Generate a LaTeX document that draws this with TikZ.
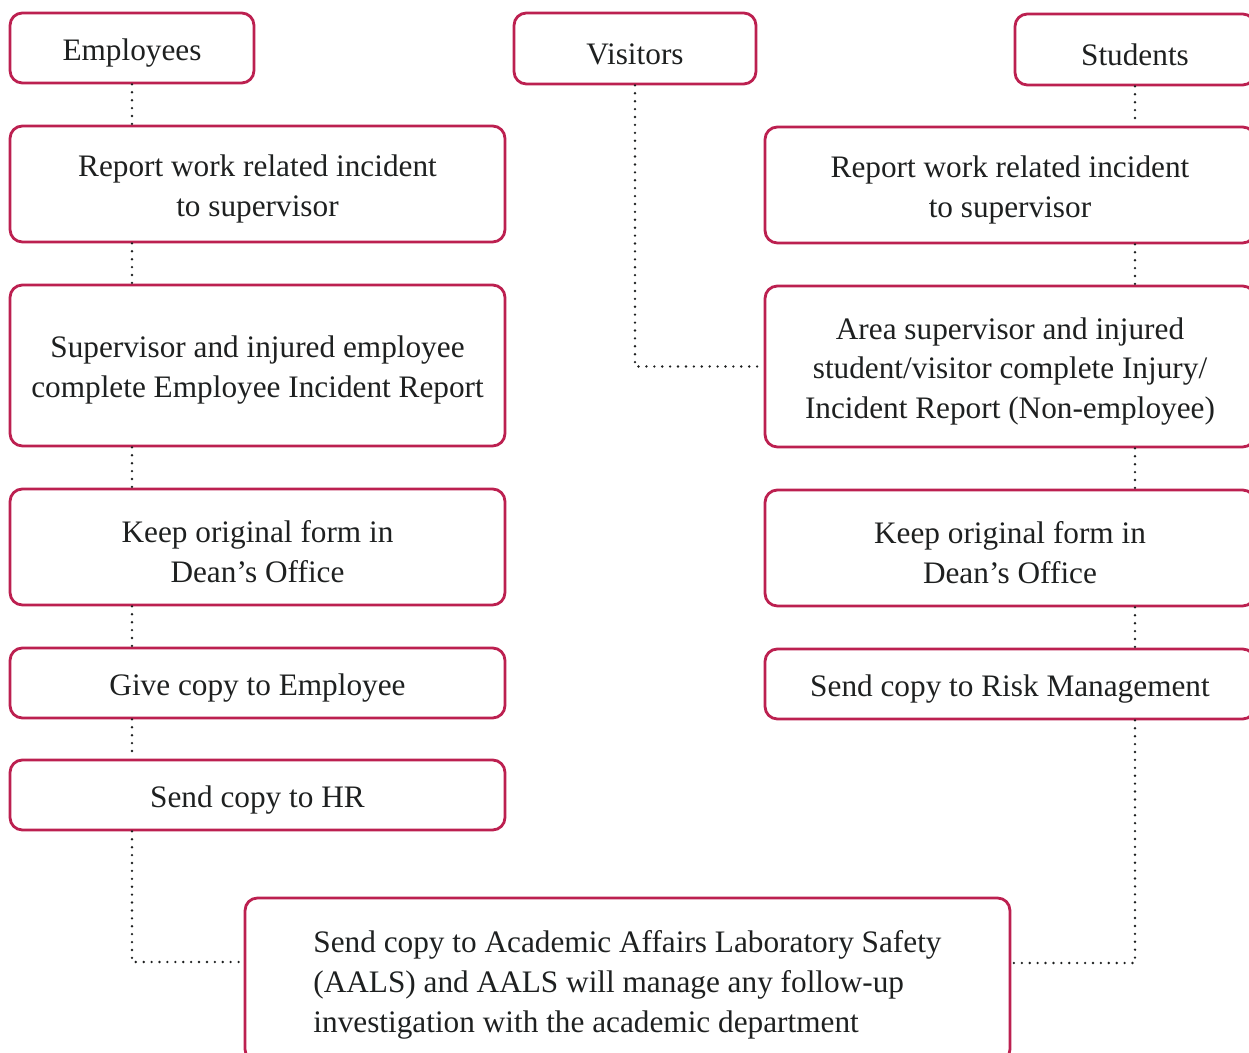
\documentclass[tikz,border=0pt]{standalone}
\usepackage{amsmath}
\usepackage{fontspec}
\setmainfont{Liberation Serif}
\usetikzlibrary{positioning}

\definecolor{crimson}{RGB}{188,32,80}
\definecolor{ink}{RGB}{30,32,32}
\newcommand{\lift}{\rule{0pt}{18pt}}

\tikzset{
  box/.style = {draw=crimson, line width=1.6pt, rounded corners=7pt, align=center,
                inner sep=0pt, text=ink, font=\fontsize{17.8}{22.7}\selectfont},
  link/.style = {line width=1.5pt, line cap=round, dash pattern=on 0pt off 4.5pt, ink}
}

\begin{document}
\begin{tikzpicture}[x = 0.02cm, y = -0.02cm]
  \useasboundingbox (0,0) rectangle (1249,1053);
  % column heads
  \node[box, minimum width=4.88cm, minimum height=1.4cm] (emp) at (132,48) {\lift Employees};
  \node[box, minimum width=4.84cm, minimum height=1.42cm] (vis) at (635,48.5) {\lift Visitors};
  \node[box, minimum width=4.8cm, minimum height=1.42cm] (stu) at (1135,49.5) {\lift Students};
  % employees
  \node[box, minimum width=9.9cm, minimum height=2.32cm] (lrep) at (257.5,184) {\lift Report work related incident\\to supervisor};
  \node[box, minimum width=9.9cm, minimum height=3.22cm] (lsup) at (257.5,365.5) {\lift Supervisor and injured employee\\complete Employee Incident Report};
  \node[box, minimum width=9.9cm, minimum height=2.32cm] (lkeep) at (257.5,547) {\lift Keep original form in\\Dean's Office};
  \node[box, minimum width=9.9cm, minimum height=1.4cm] (lgive) at (257.5,683) {\lift Give copy to Employee};
  \node[box, minimum width=9.9cm, minimum height=1.4cm] (lhr) at (257.5,795) {\lift Send copy to HR};
  % students and visitors
  \node[box, minimum width=9.8cm, minimum height=2.32cm] (rrep) at (1010,185) {\lift Report work related incident\\to supervisor};
  \node[box, minimum width=9.8cm, minimum height=3.22cm] (rarea) at (1010,366.5) {\lift Area supervisor and injured\\student/visitor complete Injury/\\Incident Report (Non-employee)};
  \node[box, minimum width=9.8cm, minimum height=2.32cm] (rkeep) at (1010,548) {\lift Keep original form in\\Dean's Office};
  \node[box, minimum width=9.8cm, minimum height=1.4cm] (rrisk) at (1010,684) {\lift Send copy to Risk Management};
  % common end
  \node[box, align=left, minimum width=15.3cm, minimum height=3.28cm] (aals) at (627.5,980)
    {\lift Send copy to Academic Affairs Laboratory Safety\\(AALS) and AALS will manage any follow-up\\investigation with the academic department};

  \draw[link] (emp.south) -- (emp.south |- lrep.north)
              (emp.south |- lrep.south) -- (emp.south |- lsup.north)
              (emp.south |- lsup.south) -- (emp.south |- lkeep.north)
              (emp.south |- lkeep.south) -- (emp.south |- lgive.north)
              (emp.south |- lgive.south) -- (emp.south |- lhr.north)
              (emp.south |- lhr.south) |- ([yshift=0.36cm]aals.west);
  \draw[link] (vis.south) |- (rarea.west);
  \draw[link] (stu.south) -- (stu.south |- rrep.north)
              (stu.south |- rrep.south) -- (stu.south |- rarea.north)
              (stu.south |- rarea.south) -- (stu.south |- rkeep.north)
              (stu.south |- rkeep.south) -- (stu.south |- rrisk.north)
              (stu.south |- rrisk.south) |- ([yshift=0.34cm]aals.east);
\end{tikzpicture}
\end{document}
